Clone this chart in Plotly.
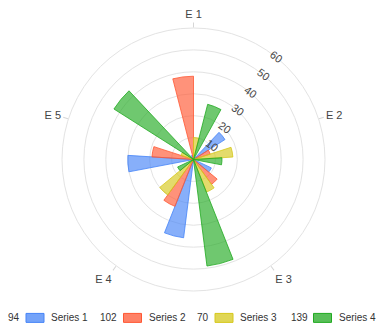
import plotly.graph_objects as go

# Categories around the circle and the four series
categories = ["E 1", "E 2", "E 3", "E 4", "E 5"]
series_names = ["Series 1", "Series 2", "Series 3", "Series 4"]
series_1 = [2, 17, 9, 36, 30]
series_2 = [38, 8, 14, 23, 19]
series_3 = [10, 18, 16, 20, 6]
series_4 = [26, 13, 49, 8, 43]
radial_ticks = [10, 20, 30, 40, 50, 60]

series_values = [series_1, series_2, series_3, series_4]
base_colors = [(70, 132, 247), (255, 87, 51), (214, 200, 28), (34, 170, 34)]

W, H = 384, 332
M_L, M_R, M_T, M_B = 3, 0, 27.5, 40.5
PLOT_W = W - M_L - M_R
PLOT_H = H - M_T - M_B

n_cat = len(categories)
n_ser = len(series_values)
sector = 360.0 / n_cat
bar_w = sector / (n_ser + 1)

fig = go.Figure()
for j, (name, vals) in enumerate(zip(series_names, series_values)):
    r, g, b = base_colors[j]
    thetas = [i * sector + (j - (n_ser - 1) / 2) * bar_w for i in range(n_cat)]
    fig.add_trace(go.Barpolar(
        r=vals,
        theta=thetas,
        width=bar_w,
        name=name,
        marker=dict(color=f"rgba({r},{g},{b},0.65)",
                    line=dict(color=f"rgba({r},{g},{b},0.8)", width=1)),
        showlegend=False,
    ))

fig.update_layout(
    width=W, height=H,
    margin=dict(l=M_L, r=M_R, t=M_T, b=M_B, pad=0),
    paper_bgcolor="white",
    font=dict(family="Liberation Sans, Arial, sans-serif", size=11, color="#444"),
    polar=dict(
        bgcolor="white",
        domain=dict(x=[0, 1], y=[0, 1]),
        barmode="overlay",
        angularaxis=dict(
            type="linear",
            thetaunit="degrees",
            rotation=90,
            direction="clockwise",
            tickmode="array",
            tickvals=[i * sector for i in range(n_cat)],
            ticktext=categories,
            showgrid=False,
            showline=True,
            linecolor="#e3e3e3",
            linewidth=1,
            ticks="outside",
            ticklen=5,
            tickcolor="#d6d6d6",
            tickfont=dict(size=11, color="#444"),
        ),
        radialaxis=dict(
            range=[0, 60],
            tickmode="array",
            tickvals=radial_ticks,
            angle=90 - sector / 2,
            tickangle=90,
            showline=False,
            ticks="",
            gridcolor="#e3e3e3",
            gridwidth=1,
            tickfont=dict(size=11, color="#444"),
        ),
    ),
)

# Legend row: total of each series, colour swatch, series name
def px_x(x):
    return (x - M_L) / PLOT_W

def px_y(y):
    return (H - M_B - y) / PLOT_H

swatch_left = [26, 123.5, 215, 313.5]
swatch_w, swatch_h = 18, 9
legend_y = 318.5
for j, name in enumerate(series_names):
    r, g, b = base_colors[j]
    x0 = swatch_left[j]
    fig.add_shape(
        type="rect", xref="paper", yref="paper",
        x0=px_x(x0), x1=px_x(x0 + swatch_w),
        y0=px_y(legend_y - swatch_h / 2), y1=px_y(legend_y + swatch_h / 2),
        fillcolor=f"rgba({r},{g},{b},0.75)",
        line=dict(color=f"rgb({r},{g},{b})", width=1),
    )
    fig.add_annotation(
        xref="paper", yref="paper", x=px_x(x0 - 4), y=px_y(legend_y),
        xanchor="right", yanchor="middle", showarrow=False,
        text=str(sum(series_values[j])),
        font=dict(size=10, color="#333"),
    )
    fig.add_annotation(
        xref="paper", yref="paper", x=px_x(x0 + swatch_w + 5), y=px_y(legend_y),
        xanchor="left", yanchor="middle", showarrow=False,
        text=name,
        font=dict(size=10, color="#333"),
    )

fig.write_html("out.html")
